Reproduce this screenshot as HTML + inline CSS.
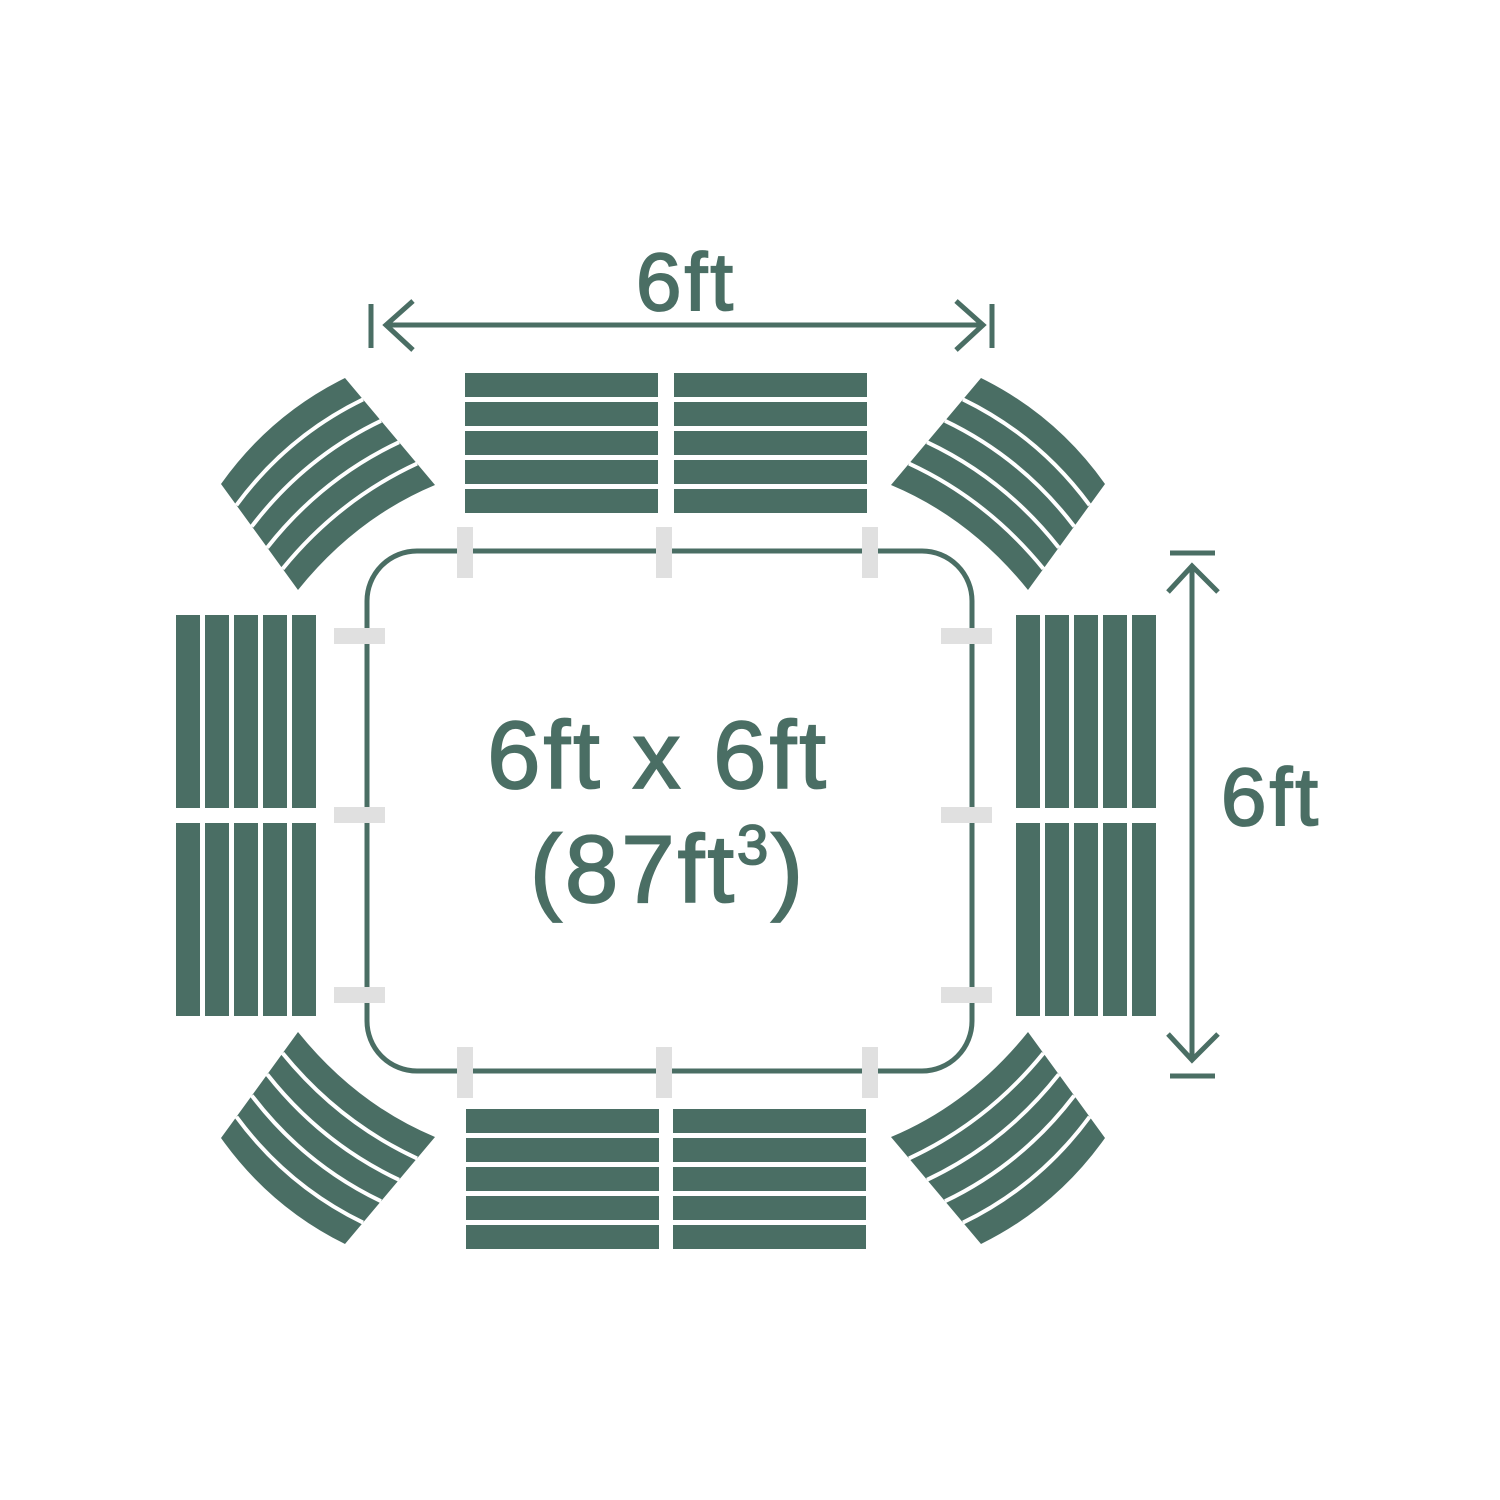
<!DOCTYPE html>
<html><head><meta charset="utf-8"><style>
html,body{margin:0;padding:0;background:#fff;}
svg{display:block;}
text{font-family:"Liberation Sans",Arial,sans-serif;fill:#4a6e64;stroke:#4a6e64;stroke-width:1.8;}
</style></head><body>
<svg width="1500" height="1500" viewBox="0 0 1500 1500" xmlns="http://www.w3.org/2000/svg">
<defs>
<g id="curve">
<path d="M221,484 Q270,415 345,378 L435,485 Q356,518 298,590 Z" fill="#4a6e64"/>
<g fill="none" stroke="#fff" stroke-width="4">
<path d="M236.4,505.2 Q287.2,436.2 363,399.4"/>
<path d="M251.8,526.4 Q304.4,457.4 381,420.8"/>
<path d="M267.2,547.6 Q321.6,478.6 399,442.2"/>
<path d="M282.6,568.8 Q338.8,499.8 417,463.6"/>
</g>
</g>
<g id="hb" fill="#4a6e64">
<rect x="0" y="0" width="193" height="24"/>
<rect x="0" y="29" width="193" height="24"/>
<rect x="0" y="58" width="193" height="24"/>
<rect x="0" y="87" width="193" height="24"/>
<rect x="0" y="116" width="193" height="24"/>
</g>
<g id="vb" fill="#4a6e64">
<rect x="0" y="0" width="24" height="193"/>
<rect x="29" y="0" width="24" height="193"/>
<rect x="58" y="0" width="24" height="193"/>
<rect x="87" y="0" width="24" height="193"/>
<rect x="116" y="0" width="24" height="193"/>
</g>
</defs>

<use href="#curve"/>
<use href="#curve" transform="matrix(-1 0 0 1 1326 0)"/>
<use href="#curve" transform="matrix(1 0 0 -1 0 1622)"/>
<use href="#curve" transform="matrix(-1 0 0 -1 1326 1622)"/>

<use href="#hb" x="465" y="373"/>
<use href="#hb" x="674" y="373"/>
<use href="#hb" x="466" y="1109"/>
<use href="#hb" x="673" y="1109"/>
<use href="#vb" x="176" y="615"/>
<use href="#vb" x="176" y="823"/>
<use href="#vb" x="1016" y="615"/>
<use href="#vb" x="1016" y="823"/>

<rect x="367" y="551" width="605" height="520" rx="50" ry="50" fill="none" stroke="#4a6e64" stroke-width="5"/>

<g fill="#e0e0e0">
<rect x="457" y="527" width="16" height="51"/>
<rect x="656" y="527" width="16" height="51"/>
<rect x="862" y="527" width="16" height="51"/>
<rect x="457" y="1047" width="16" height="51"/>
<rect x="656" y="1047" width="16" height="51"/>
<rect x="862" y="1047" width="16" height="51"/>
<rect x="334" y="628" width="51" height="16"/>
<rect x="334" y="807" width="51" height="16"/>
<rect x="334" y="987" width="51" height="16"/>
<rect x="941" y="628" width="51" height="16"/>
<rect x="941" y="807" width="51" height="16"/>
<rect x="941" y="987" width="51" height="16"/>
</g>

<g stroke="#4a6e64" stroke-width="5" fill="none">
<line x1="371" y1="304" x2="371" y2="348"/>
<line x1="992" y1="304" x2="992" y2="348"/>
<line x1="386" y1="325" x2="983" y2="325"/>
<polyline points="413,301 386,325 413,350"/>
<polyline points="956,301 983,325 956,350"/>
<line x1="1170" y1="553" x2="1215" y2="553"/>
<line x1="1170" y1="1076" x2="1215" y2="1076"/>
<line x1="1192" y1="566" x2="1192" y2="1060"/>
<polyline points="1168,592 1192,566 1218,592"/>
<polyline points="1168,1034 1192,1060 1218,1034"/>
</g>

<text x="686" y="310" font-size="82" text-anchor="middle" letter-spacing="3">6ft</text>
<text x="1271" y="825" font-size="82" text-anchor="middle" letter-spacing="3">6ft</text>
<text x="658" y="788" font-size="96" text-anchor="middle" letter-spacing="3">6ft x 6ft</text>
<text x="668" y="902" font-size="96" text-anchor="middle" letter-spacing="3">(87ft<tspan font-size="56" dy="-38">3</tspan><tspan dy="38">)</tspan></text>
</svg>
</body></html>
